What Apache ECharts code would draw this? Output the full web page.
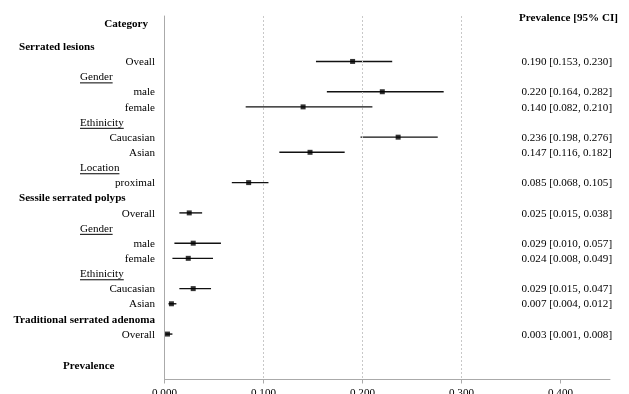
<!DOCTYPE html>
<html><head><meta charset="utf-8">
<script src="https://cdn.jsdelivr.net/npm/echarts@6/dist/echarts.min.js"></script>
<style>html,body{margin:0;padding:0;background:#fff}#c{width:629px;height:394px}</style>
</head><body><div id="c"></div>
<script>
const rowLabels = ['Serrated lesions','Oveall','Gender','male','female','Ethinicity','Caucasian','Asian','Location','proximal','Sessile serrated polyps','Overall','Gender','male','female','Ethinicity','Caucasian','Asian','Traditional serrated adenoma','Overall'];
const rowKinds  = ['section','item','group','item','item','group','item','item','group','item','section','item','group','item','item','group','item','item','section','item'];
const estimate  = [null,0.190,null,0.220,0.140,null,0.236,0.147,null,0.085,null,0.025,null,0.029,0.024,null,0.029,0.007,null,0.003];
const lower     = [null,0.153,null,0.164,0.082,null,0.198,0.116,null,0.068,null,0.015,null,0.010,0.008,null,0.015,0.004,null,0.001];
const upper     = [null,0.230,null,0.282,0.210,null,0.276,0.182,null,0.105,null,0.038,null,0.057,0.049,null,0.047,0.012,null,0.008];
const xTicks = [0, 0.1, 0.2, 0.3, 0.4];
const gridLines = [0.1, 0.2, 0.3];
const categoryHeader = 'Category';
const valueHeader = 'Prevalence [95% CI]';
const axisTitle = 'Prevalence';

const FONT = '"Liberation Serif", "Times New Roman", serif';
const FS = 11.1;
const ctx = document.createElement('canvas').getContext('2d');
function textWidth(t, bold) { ctx.font = (bold ? 'bold ' : '') + FS + 'px ' + FONT; return ctx.measureText(t).width; }

const rowData = rowLabels.map((l, i) => [0, i]);
const ciData = [], pointData = [], textData = [];
estimate.forEach((e, i) => {
  if (e === null) return;
  ciData.push([lower[i], upper[i], i]);
  pointData.push([e, i]);
  textData.push([0, i, e.toFixed(3) + ' [' + lower[i].toFixed(3) + ', ' + upper[i].toFixed(3) + ']']);
});

function txt(text, x, y, align, bold) {
  return { type: 'text', style: { text, x, y, align, verticalAlign: 'middle', fontSize: FS, fontFamily: FONT, fontWeight: bold ? 'bold' : 'normal', fill: '#000' } };
}

const chart = echarts.init(document.getElementById('c'), null, { renderer: 'canvas' });
chart.setOption({
  animation: false,
  grid: { left: 164.5, right: 19, top: 16, bottom: 14.5, outerBoundsMode: 'none', containLabel: false },
  xAxis: {
    type: 'value', min: 0, max: 0.45, interval: 0.1,
    axisLine: { show: true, onZero: false, lineStyle: { color: '#aaaaaa', width: 1 } },
    axisTick: { show: true, length: 4, lineStyle: { color: '#aaaaaa' }, customValues: xTicks },
    axisLabel: { customValues: xTicks, formatter: v => v.toFixed(3), fontSize: FS, fontFamily: FONT, color: '#000', margin: 8 },
    splitLine: { show: false }
  },
  yAxis: {
    type: 'value', inverse: true, min: -2, max: 22,
    axisLine: { show: true, onZero: false, lineStyle: { color: '#aaaaaa', width: 1 } },
    axisTick: { show: false }, axisLabel: { show: false }, splitLine: { show: false }
  },
  graphic: [
    txt(categoryHeader, 148, 24, 'right', true),
    txt(valueHeader, 519, 18, 'left', true),
    txt(axisTitle, 63, 366, 'left', true)
  ],
  series: [
    {
      type: 'custom', data: rowData, silent: true, clip: false,
      renderItem: (params, api) => {
        const i = params.dataIndex;
        const y = api.coord([0, api.value(1)])[1] + 0.8;
        const label = rowLabels[i], kind = rowKinds[i];
        if (kind === 'section') {
          const w = textWidth(label, true);
          return txt(label, Math.min(19, 155 - w), y, 'left', true);
        }
        if (kind === 'group') {
          const w = textWidth(label, false);
          return { type: 'group', children: [
            txt(label, 80, y, 'left', false),
            { type: 'line', shape: { x1: 80, y1: y + 5.5, x2: 80 + w, y2: y + 5.5 }, style: { stroke: '#000', lineWidth: 1 } }
          ] };
        }
        return txt(label, 155, y, 'right', false);
      }
    },
    {
      type: 'custom', data: textData, silent: true, clip: false,
      renderItem: (params, api) => {
        const y = api.coord([0, api.value(1)])[1] + 0.8;
        return txt(textData[params.dataIndex][2], 521.5, y, 'left', false);
      }
    },
    {
      type: 'custom', data: ciData, silent: true,
      renderItem: (params, api) => {
        const p1 = api.coord([api.value(0), api.value(2)]);
        const p2 = api.coord([api.value(1), api.value(2)]);
        return { type: 'line', shape: { x1: p1[0], y1: p1[1], x2: p2[0], y2: p2[1] }, style: { stroke: '#111', lineWidth: 1.4 } };
      }
    },
    {
      type: 'scatter', data: pointData, symbol: 'rect', symbolSize: 5, silent: true,
      itemStyle: { color: '#000' },
      markLine: {
        silent: true, symbol: 'none', label: { show: false },
        lineStyle: { type: [2, 2], color: '#c8c8c8', width: 1 },
        data: gridLines.map(v => ({ xAxis: v }))
      }
    }
  ]
});
</script></body></html>
